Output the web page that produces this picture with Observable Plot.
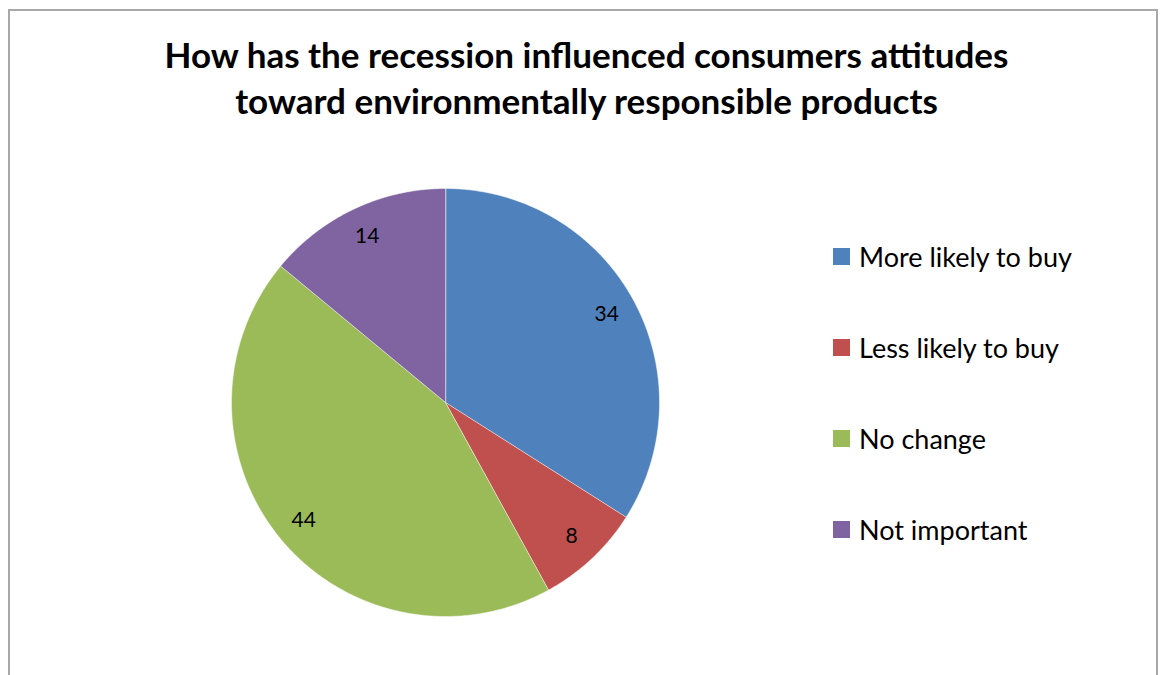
<!DOCTYPE html>
<html>
<head>
<meta charset="utf-8">
<script src="https://cdn.jsdelivr.net/npm/d3@7"></script>
<script src="https://cdn.jsdelivr.net/npm/@observablehq/plot@0.6"></script>
<style>
  html, body { margin: 0; padding: 0; background: #fff; }
  #wrap { position: relative; width: 1161px; height: 675px; overflow: hidden; font-family: Lato, "Open Sans", sans-serif; }
  #frame { position: absolute; left: 8px; top: 9px; width: 1150px; height: 700px; border: 2px solid #a8a8a8; border-bottom: none; box-sizing: border-box; }
  #title { position: absolute; left: 0; top: 31px; width: 1173px; text-align: center; font-weight: bold; font-size: 35px; line-height: 46px; color: #000; }
  #chart { position: absolute; left: 0; top: 0; }
  #legend { position: absolute; left: 833px; top: 0; }
  .item { position: absolute; left: 0; white-space: nowrap; font-size: 27px; color: #000; }
  .sw { position: absolute; left: 0; width: 17px; height: 17px; }
  .lbl { position: absolute; left: 26px; }
</style>
</head>
<body>
<div id="wrap">
  <div id="frame"></div>
  <div id="chart"></div>
  <div id="title"><span id="t1">How has the recession influenced consumers attitudes</span><br><span id="t2">toward environmentally responsible products</span></div>
  <div id="legend"></div>
</div>
<script>
const categories = ["More likely to buy", "Less likely to buy", "No change", "Not important"];
const values = [34, 8, 44, 14];
const colors = ["#4F81BD", "#C0504D", "#9BBB59", "#8064A2"];

const total = d3.sum(values);
const slices = [];
const labels = [];
let acc = 0;
values.forEach((v, i) => {
  const a0 = acc / total * 2 * Math.PI;
  const a1 = (acc + v) / total * 2 * Math.PI;
  slices.push({cat: categories[i], x: 0, y: 0});
  const n = Math.max(2, Math.ceil((a1 - a0) / (Math.PI / 360)));
  for (let j = 0; j <= n; j++) {
    const a = a0 + (a1 - a0) * j / n;
    slices.push({cat: categories[i], x: Math.sin(a), y: Math.cos(a)});
  }
  const am = (a0 + a1) / 2;
  labels.push({text: String(v), x: 0.86 * Math.sin(am), y: 0.86 * Math.cos(am)});
  acc += v;
});

const plot = Plot.plot({
  width: 1161,
  height: 675,
  margin: 0,
  style: {background: "transparent", fontFamily: "Lato, 'Open Sans', sans-serif"},
  x: {domain: [-1, 1], range: [231, 659], axis: null},
  y: {domain: [-1, 1], range: [616, 188], axis: null},
  color: {domain: categories, range: colors},
  marks: [
    Plot.line(slices, {x: "x", y: "y", z: "cat", fill: "cat", stroke: "#ffffff", strokeWidth: 0.8, strokeOpacity: 0.6, curve: "linear-closed"}),
    Plot.text(labels, {x: "x", y: "y", text: "text", fontSize: 21, fill: "#000", textAnchor: "middle"})
  ]
});
document.getElementById("chart").appendChild(plot);

const legend = document.getElementById("legend");
const rowCenters = [257, 348, 439, 530];
categories.forEach((c, i) => {
  const item = document.createElement("div");
  item.className = "item";
  item.style.top = (rowCenters[i] - 16) + "px";
  item.style.height = "32px";
  item.style.lineHeight = "32px";
  const sw = document.createElement("div");
  sw.className = "sw";
  sw.style.background = colors[i];
  sw.style.top = "7px";
  const lb = document.createElement("span");
  lb.className = "lbl";
  lb.textContent = c;
  item.appendChild(sw);
  item.appendChild(lb);
  legend.appendChild(item);
});
</script>
</body>
</html>
